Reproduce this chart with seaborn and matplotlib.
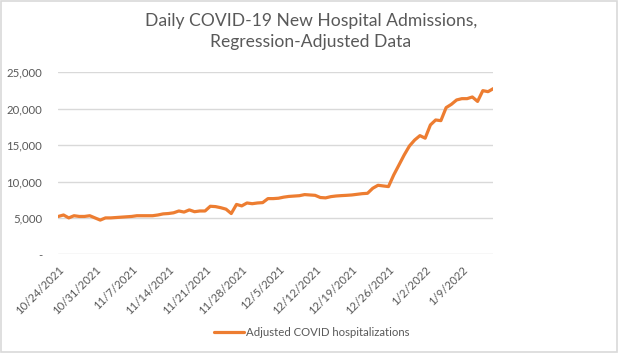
import matplotlib
matplotlib.use("Agg")
import matplotlib.pyplot as plt
import seaborn as sns
import pandas as pd
import numpy as np
from matplotlib.lines import Line2D

start_date = "2021-10-24"
values = [
    5200, 5400, 5000, 5300, 5200, 5200, 5300, 5000, 4700, 5000,
    5000, 5050, 5100, 5150, 5200, 5300, 5300, 5300, 5300, 5400,
    5550, 5600, 5700, 5950, 5800, 6100, 5850, 5950, 5950, 6600,
    6550, 6400, 6200, 5600, 6850, 6650, 7050, 6950, 7050, 7100,
    7650, 7650, 7700, 7850, 7950, 8000, 8050, 8200, 8150, 8100,
    7800, 7750, 7920, 8010, 8060, 8100, 8150, 8240, 8330, 8380,
    9070, 9480, 9390, 9300, 10900, 12270, 13650, 14880, 15700, 16300,
    15950, 17770, 18450, 18360, 20150, 20600, 21200, 21380, 21380, 21610,
    21000, 22480, 22340, 22760,
]
series_name = "Adjusted COVID hospitalizations"
title = "Daily COVID-19 New Hospital Admissions,\nRegression-Adjusted Data"
y_ticks = [0, 5000, 10000, 15000, 20000, 25000]

dates = pd.date_range(start_date, periods=len(values), freq="D")
df = pd.DataFrame({"date": dates, "value": values, "series": series_name})

sns.set_theme(style="white")
plt.rcParams["font.family"] = ["Lato", "DejaVu Sans"]

grey = "#595959"
orange = "#ED7D31"

fig = plt.figure(figsize=(6.18, 3.53), dpi=100)
ax = fig.add_axes([58.3 / 618, 1 - 254.3 / 353, (493.3 - 58.3) / 618, (254.3 - 72.3) / 353])

sns.lineplot(data=df, x="date", y="value", hue="series", palette=[orange],
             linewidth=2.3, ax=ax, legend=False)

ax.set_xlim(dates[0], dates[-1])
ax.set_ylim(0, 25000)
ax.set_yticks(y_ticks)
ax.set_yticklabels(["-" if v == 0 else f"{v:,}" for v in y_ticks])
tick_dates = pd.date_range(start_date, dates[-1], freq="7D")
ax.set_xticks(tick_dates)
ax.set_xticklabels([f"{d.month}/{d.day}/{d.year}" for d in tick_dates],
                   rotation=45, ha="right", rotation_mode="anchor")
ax.tick_params(axis="both", length=0, colors=grey, labelsize=8.2)
ax.tick_params(axis="x", pad=7)
ax.tick_params(axis="y", pad=11.5)
ax.set_xlabel("")
ax.set_ylabel("")
ax.grid(axis="y", color="#D9D9D9", linewidth=1)
ax.grid(axis="x", visible=False)
for s in ax.spines.values():
    s.set_visible(False)

fig.suptitle(title, x=0.503, y=0.962, fontsize=12.6, color=grey, linespacing=1.32)

handle = Line2D([], [], color=orange, linewidth=2.3)
fig.legend([handle], [series_name], loc="center", bbox_to_anchor=(0.505, 1 - 332 / 353),
           frameon=False, fontsize=8.2, labelcolor=grey, handlelength=2.6,
           handletextpad=0.2)

border = plt.Rectangle((0.001, 0.002), 0.997, 0.995, transform=fig.transFigure,
                       fill=False, edgecolor="#D9D9D9", linewidth=1.2)
fig.patches.append(border)

fig.savefig("out.png", dpi=100, facecolor="white")
